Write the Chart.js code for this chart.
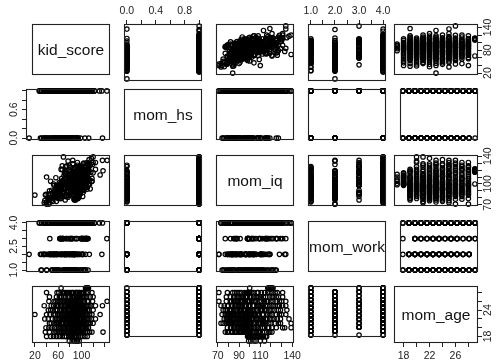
<!DOCTYPE html>
<html>
<head>
<meta charset="utf-8">
<script src="https://cdn.jsdelivr.net/npm/chart.js@4/dist/chart.umd.min.js"></script>
<style>
  html, body { margin: 0; padding: 0; background: #fff; }
  #matrix { position: relative; width: 496px; height: 360px; overflow: hidden; background: #fff; }
  #matrix canvas { position: absolute; left: 0; top: 0; }
</style>
</head>
<body>
<div id="matrix"></div>
<script>
// Variable names shown on the diagonal
const varNames = ['kid_score', 'mom_hs', 'mom_iq', 'mom_work', 'mom_age'];

// One value per child; each line holds the children of mothers of one age (17 .. 29)
const kidScore = [
  84, 96, 91, 79, 88, 93,
  106, 98, 92, 85, 110, 74, 67, 57, 47, 40, 88, 79, 101, 83, 62, 95, 71, 52, 90, 81,
  137, 118, 95, 104, 87, 76, 102, 63, 58, 92, 81, 71, 110, 53, 98, 85, 66, 38, 90, 114, 100, 79, 69, 93, 84, 61, 107, 74, 96, 56, 88, 45,
  69, 112, 101, 93, 107, 85, 78, 61, 54, 96, 88, 72, 44, 99, 82, 65, 104, 90, 39, 77, 91, 83, 75, 97, 68, 58, 103, 86, 49, 95, 80, 71, 109, 63,
  120, 115, 108, 102, 97, 94, 89, 86, 83, 79, 75, 70, 66, 60, 53, 45, 99, 111, 91, 73, 84, 57, 103, 93, 92, 87, 81, 77, 95, 68, 100, 62, 106, 74, 85, 58, 98, 112, 48, 90,
  124, 117, 113, 106, 101, 96, 92, 88, 84, 80, 76, 71, 65, 58, 50, 37, 109, 98, 86, 69, 91, 78, 62, 100, 94, 89, 82, 75, 104, 67, 97, 60, 111, 85, 72, 55, 99, 43, 80, 92,
  20, 132, 106, 91, 102, 99, 118, 110, 95, 87, 83, 79, 74, 68, 63, 55, 46, 40, 89, 97, 72, 85, 60, 114, 93, 81, 96, 90, 84, 78, 101, 70, 93, 65, 108, 86, 76, 59, 104, 52, 99, 82,
  102, 58, 120, 113, 107, 100, 95, 90, 86, 82, 77, 72, 66, 59, 51, 43, 97, 88, 79, 105, 69, 93, 99, 92, 85, 78, 103, 71, 94, 63, 110, 88, 75, 56, 101, 47,
  98, 83, 124, 116, 109, 103, 97, 93, 88, 84, 80, 75, 70, 64, 57, 48, 36, 111, 91, 77, 136, 61, 100, 94, 87, 81, 106, 73, 96, 66, 113, 89, 78, 59, 102, 52,
  144, 78, 110, 119, 105, 99, 94, 90, 85, 81, 76, 71, 65, 56, 44, 101, 87, 68, 96, 59, 98, 92, 86, 80, 104, 74, 95, 63, 112, 88, 70, 53,
  65, 85, 115, 84, 120, 106, 99, 92, 88, 79, 73, 66, 57, 45, 95, 102, 97, 91, 84, 77, 104, 70, 93, 62, 109, 86,
  102, 118, 111, 104, 97, 91, 86, 80, 74, 67, 58, 40, 94, 71, 96, 90, 83, 77, 100, 69, 92, 61, 108, 85,
  110, 108, 112, 109, 111, 65, 109, 111, 107, 110
];
const momHs = [
  0, 1, 0, 1, 1, 0,
  1, 0, 1, 0, 1, 1, 0, 1, 0, 1, 1, 1, 1, 0, 1, 1, 0, 1, 1, 1,
  0, 1, 1, 1, 1, 0, 1, 0, 1, 1, 1, 0, 1, 1, 1, 0, 1, 0, 1, 1, 1, 1, 1, 0, 1, 1, 1, 0, 1, 1, 1, 0,
  1, 1, 1, 1, 1, 0, 1, 0, 1, 1, 1, 0, 0, 1, 1, 1, 1, 0, 1, 1, 1, 1, 1, 0, 1, 0, 1, 1, 1, 1, 0, 1, 1, 1,
  1, 0, 1, 1, 1, 0, 1, 1, 0, 1, 1, 0, 1, 1, 0, 1, 1, 1, 1, 1, 1, 0, 1, 0, 1, 1, 1, 0, 1, 1, 1, 0, 1, 1, 1, 1, 0, 1, 1, 1,
  1, 1, 1, 1, 1, 1, 0, 1, 1, 0, 1, 1, 0, 1, 0, 1, 1, 1, 1, 1, 1, 0, 1, 1, 1, 1, 1, 0, 1, 1, 1, 0, 1, 1, 1, 1, 1, 0, 1, 1,
  0, 1, 1, 1, 1, 1, 1, 1, 1, 0, 1, 1, 0, 1, 1, 0, 1, 0, 1, 1, 1, 1, 0, 1, 1, 0, 1, 1, 0, 1, 1, 1, 1, 0, 1, 1, 1, 1, 1, 0, 1, 1,
  1, 1, 1, 1, 1, 1, 1, 0, 1, 1, 0, 1, 1, 0, 1, 1, 1, 1, 1, 1, 0, 1, 1, 1, 0, 1, 1, 1, 1, 1, 1, 1, 0, 1, 1, 1,
  1, 1, 1, 1, 1, 1, 0, 1, 1, 0, 1, 1, 0, 1, 1, 0, 1, 1, 1, 1, 1, 1, 1, 1, 0, 1, 1, 1, 1, 1, 1, 1, 0, 1, 1, 1,
  1, 1, 1, 1, 1, 1, 0, 1, 1, 0, 1, 1, 0, 1, 1, 1, 1, 1, 1, 0, 1, 1, 0, 1, 1, 1, 1, 1, 1, 1, 0, 1,
  1, 1, 1, 1, 1, 1, 1, 0, 1, 1, 0, 1, 1, 1, 1, 0, 1, 1, 0, 1, 1, 1, 1, 1, 1, 1,
  1, 1, 1, 1, 1, 0, 1, 1, 0, 1, 1, 1, 1, 1, 1, 1, 1, 0, 1, 1, 1, 1, 1, 1,
  1, 1, 1, 0, 1, 1, 1, 1, 1, 1
];
const momIq = [
  101, 114, 99, 104, 106, 110,
  116, 108, 103, 100, 112, 99, 101, 98, 104, 110, 106, 113, 104, 111, 102, 99, 115, 100, 107, 109,
  119, 104, 112, 91, 97, 103, 121, 79, 92, 83, 108, 88, 95, 98, 86, 116, 100, 84, 77, 106, 93, 110, 99, 87, 101, 91, 118, 83, 96, 109, 80, 90,
  139, 118, 96, 131, 104, 110, 83, 97, 90, 88, 121, 101, 79, 93, 114, 92, 99, 107, 85, 133, 98, 112, 89, 102, 105, 86, 94, 117, 91, 125, 100, 82, 108, 95,
  139, 127, 98, 112, 118, 84, 124, 92, 101, 106, 89, 95, 108, 81, 87, 73, 104, 115, 78, 101, 94, 75, 88, 83, 100, 113, 87, 96, 120, 104, 93, 90, 109, 82, 129, 97, 86, 99, 80, 110,
  121, 137, 129, 94, 104, 82, 100, 113, 88, 108, 97, 116, 79, 91, 85, 76, 92, 111, 123, 87, 106, 98, 84, 96, 99, 115, 106, 90, 110, 126, 96, 86, 103, 93, 119, 81, 89, 78, 102, 95,
  84, 113, 125, 89, 119, 96, 104, 128, 80, 101, 108, 93, 117, 90, 97, 83, 86, 74, 88, 109, 77, 134, 79, 100, 102, 92, 121, 102, 94, 107, 97, 112, 88, 99, 130, 85, 105, 91, 116, 82, 109, 84,
  82, 95, 116, 135, 98, 123, 88, 110, 105, 119, 81, 101, 94, 91, 75, 85, 112, 77, 127, 103, 99, 92, 107, 96, 114, 90, 129, 100, 121, 92, 103, 111, 83, 87, 94, 79,
  89, 99, 131, 117, 96, 122, 103, 83, 112, 90, 107, 126, 100, 86, 93, 76, 73, 109, 79, 119, 134, 92, 110, 104, 95, 124, 99, 115, 87, 97, 128, 91, 108, 84, 115, 80,
  134, 114, 120, 128, 106, 91, 102, 117, 85, 98, 111, 95, 82, 88, 71, 93, 78, 104, 125, 87, 105, 99, 116, 92, 130, 109, 86, 100, 122, 96, 89, 83,
  121, 115, 93, 89, 131, 100, 119, 91, 110, 96, 125, 104, 82, 78, 86, 107, 122, 106, 94, 113, 98, 101, 127, 88, 108, 85,
  114, 108, 131, 92, 124, 97, 117, 84, 102, 121, 88, 71, 79, 99, 104, 119, 111, 95, 126, 86, 98, 90, 107, 100,
  120, 118, 122, 117, 121, 100, 119, 118, 121, 120
];
const momWork = [
  2, 4, 1, 3, 4, 1,
  4, 1, 2, 4, 1, 2, 4, 1, 2, 4, 4, 2, 4, 2, 4, 1, 4, 2, 4, 1,
  4, 4, 1, 3, 2, 2, 4, 1, 4, 2, 4, 2, 1, 3, 4, 1, 4, 2, 4, 3, 4, 2, 4, 1, 4, 2, 3, 4, 4, 1, 2, 4,
  4, 4, 4, 4, 1, 2, 4, 1, 2, 3, 4, 4, 2, 4, 1, 4, 3, 4, 1, 2, 4, 2, 4, 1, 4, 2, 4, 3, 4, 1, 4, 2, 4, 1,
  4, 4, 3, 4, 2, 1, 4, 2, 4, 1, 4, 2, 4, 1, 2, 4, 4, 3, 4, 2, 4, 1, 4, 2, 4, 2, 4, 1, 4, 2, 4, 4, 1, 3, 4, 2, 4, 4, 1, 2,
  4, 4, 3, 4, 2, 4, 1, 4, 2, 4, 1, 4, 2, 4, 2, 4, 4, 2, 4, 3, 4, 1, 4, 2, 4, 2, 4, 1, 4, 4, 2, 4, 3, 4, 1, 2, 4, 4, 3, 1,
  2, 4, 3, 1, 4, 4, 4, 2, 4, 1, 4, 2, 4, 1, 4, 2, 4, 1, 3, 4, 2, 4, 4, 1, 3, 2, 4, 2, 4, 1, 4, 3, 4, 2, 4, 1, 4, 2, 3, 4, 4, 1,
  1, 4, 4, 4, 3, 4, 2, 4, 1, 4, 2, 4, 1, 2, 4, 2, 4, 3, 4, 2, 4, 1, 4, 2, 4, 1, 4, 3, 4, 2, 4, 1, 4, 2, 4, 4,
  4, 3, 4, 2, 4, 1, 4, 2, 4, 1, 4, 3, 4, 2, 4, 1, 4, 3, 4, 2, 2, 4, 4, 2, 4, 1, 4, 3, 4, 2, 4, 1, 4, 2, 3, 4,
  3, 4, 4, 4, 2, 4, 1, 4, 3, 4, 2, 4, 1, 4, 2, 4, 1, 4, 3, 4, 4, 2, 4, 1, 4, 3, 4, 2, 4, 1, 4, 2,
  4, 4, 4, 4, 4, 2, 4, 1, 3, 2, 4, 1, 4, 4, 4, 1, 4, 2, 4, 1, 3, 4, 4, 2, 4, 1,
  4, 4, 3, 2, 4, 1, 4, 2, 4, 1, 4, 2, 4, 3, 4, 2, 4, 1, 4, 3, 4, 2, 4, 1,
  4, 4, 3, 1, 4, 1, 4, 4, 1, 3
];
const momAge = [
  17, 17, 17, 17, 17, 17,
  18, 18, 18, 18, 18, 18, 18, 18, 18, 18, 18, 18, 18, 18, 18, 18, 18, 18, 18, 18,
  19, 19, 19, 19, 19, 19, 19, 19, 19, 19, 19, 19, 19, 19, 19, 19, 19, 19, 19, 19, 19, 19, 19, 19, 19, 19, 19, 19, 19, 19, 19, 19,
  20, 20, 20, 20, 20, 20, 20, 20, 20, 20, 20, 20, 20, 20, 20, 20, 20, 20, 20, 20, 20, 20, 20, 20, 20, 20, 20, 20, 20, 20, 20, 20, 20, 20,
  21, 21, 21, 21, 21, 21, 21, 21, 21, 21, 21, 21, 21, 21, 21, 21, 21, 21, 21, 21, 21, 21, 21, 21, 21, 21, 21, 21, 21, 21, 21, 21, 21, 21, 21, 21, 21, 21, 21, 21,
  22, 22, 22, 22, 22, 22, 22, 22, 22, 22, 22, 22, 22, 22, 22, 22, 22, 22, 22, 22, 22, 22, 22, 22, 22, 22, 22, 22, 22, 22, 22, 22, 22, 22, 22, 22, 22, 22, 22, 22,
  23, 23, 23, 23, 23, 23, 23, 23, 23, 23, 23, 23, 23, 23, 23, 23, 23, 23, 23, 23, 23, 23, 23, 23, 23, 23, 23, 23, 23, 23, 23, 23, 23, 23, 23, 23, 23, 23, 23, 23, 23, 23,
  24, 24, 24, 24, 24, 24, 24, 24, 24, 24, 24, 24, 24, 24, 24, 24, 24, 24, 24, 24, 24, 24, 24, 24, 24, 24, 24, 24, 24, 24, 24, 24, 24, 24, 24, 24,
  25, 25, 25, 25, 25, 25, 25, 25, 25, 25, 25, 25, 25, 25, 25, 25, 25, 25, 25, 25, 25, 25, 25, 25, 25, 25, 25, 25, 25, 25, 25, 25, 25, 25, 25, 25,
  26, 26, 26, 26, 26, 26, 26, 26, 26, 26, 26, 26, 26, 26, 26, 26, 26, 26, 26, 26, 26, 26, 26, 26, 26, 26, 26, 26, 26, 26, 26, 26,
  27, 27, 27, 27, 27, 27, 27, 27, 27, 27, 27, 27, 27, 27, 27, 27, 27, 27, 27, 27, 27, 27, 27, 27, 27, 27,
  28, 28, 28, 28, 28, 28, 28, 28, 28, 28, 28, 28, 28, 28, 28, 28, 28, 28, 28, 28, 28, 28, 28, 28,
  29, 29, 29, 29, 29, 29, 29, 29, 29, 29
];

// Tick positions and the labels printed at them
const kidTicks  = [20, 40, 60, 80, 100, 120, 140];
const hsTicks   = [0, 0.2, 0.4, 0.6, 0.8, 1];
const iqTicks   = [70, 80, 90, 100, 110, 120, 130, 140];
const workTicks = [1, 1.5, 2, 2.5, 3, 3.5, 4];
const ageTicks  = [18, 20, 22, 24, 26, 28];
const xTickLabels = [['20', '60', '100'], ['0.0', '0.4', '0.8'], ['70', '90', '110', '140'], ['1.0', '2.0', '3.0', '4.0'], ['18', '22', '26']];
const yTickLabels = [['20', '80', '140'], ['0.0', '0.6'], ['70', '100', '140'], ['1.0', '2.5', '4.0'], ['18', '24']];

const series = [kidScore, momHs, momIq, momWork, momAge];
const tickValues = [kidTicks, hsTicks, iqTicks, workTicks, ageTicks];

// Axis limits: data range widened by 4% at each end
const limits = series.map(s => {
  const lo = Math.min(...s), hi = Math.max(...s), pad = (hi - lo) * 0.04;
  return [lo - pad, hi + pad];
});

// Panel grid geometry
const W = 496, H = 360;
const colLeft = [26, 118, 210, 302, 394];
const rowTop = [24, 89, 155, 221, 286];
const boxW = 84, boxH = 57;
const AX = 6;               // room reserved for an axis strip
const INK = '#222';
const TICK_FONT = '10.5px "Liberation Sans", Arial, Helvetica, sans-serif';
const DIAG_FONT = '15.5px "Liberation Sans", Arial, Helvetica, sans-serif';

const panelPlugin = {
  id: 'panel',
  afterDraw(chart, args, opts) {
    const { ctx, chartArea: a } = chart;
    ctx.save();
    ctx.strokeStyle = INK;
    ctx.lineWidth = 1.1;
    ctx.strokeRect(a.left + 0.5, a.top + 0.5, a.right - a.left - 1, a.bottom - a.top - 1);

    ctx.fillStyle = '#222';
    ctx.font = TICK_FONT;
    ctx.textAlign = 'center';
    ctx.textBaseline = 'middle';
    const xs = chart.scales.x, ys = chart.scales.y;
    if (opts.xSide) {
      const yy = opts.xSide === 'top' ? a.top - 13 : a.bottom + 13;
      xTickLabels[opts.col].forEach(t => ctx.fillText(t, xs.getPixelForValue(parseFloat(t)), yy));
    }
    if (opts.ySide) {
      const xx = opts.ySide === 'left' ? a.left - 12 : a.right + 10;
      yTickLabels[opts.row].forEach(t => {
        ctx.save();
        ctx.translate(xx, ys.getPixelForValue(parseFloat(t)));
        ctx.rotate(-Math.PI / 2);
        ctx.fillText(t, 0, 0);
        ctx.restore();
      });
    }
    if (opts.title) {
      ctx.fillStyle = '#111';
      ctx.font = DIAG_FONT;
      ctx.fillText(opts.title, (a.left + a.right) / 2, (a.top + a.bottom) / 2 + 1);
    }
    ctx.restore();
  }
};

function axisOptions(k, horizontal, side) {
  return {
    type: 'linear',
    display: !!side,
    position: side || (horizontal ? 'bottom' : 'left'),
    min: limits[k][0],
    max: limits[k][1],
    afterBuildTicks: s => { s.ticks = tickValues[k].map(v => ({ value: v })); },
    afterFit: s => { if (horizontal) s.height = AX; else s.width = AX; },
    grid: { drawOnChartArea: false, drawTicks: true, tickLength: 4, color: INK, lineWidth: 1 },
    border: { display: false },
    ticks: { display: false }
  };
}

const host = document.getElementById('matrix');
for (let r = 0; r < 5; r++) {
  for (let c = 0; c < 5; c++) {
    const xSide = (r === 0 && c % 2 === 1) ? 'top' : (r === 4 && c % 2 === 0) ? 'bottom' : null;
    const ySide = (c === 0 && r % 2 === 1) ? 'left' : (c === 4 && r % 2 === 0) ? 'right' : null;
    const left = colLeft[c], top = rowTop[r];
    const padding = {
      left: left - (ySide === 'left' ? AX : 0),
      right: W - (left + boxW) - (ySide === 'right' ? AX : 0),
      top: top - (xSide === 'top' ? AX : 0),
      bottom: H - (top + boxH) - (xSide === 'bottom' ? AX : 0)
    };
    const canvas = document.createElement('canvas');
    canvas.width = W; canvas.height = H;
    canvas.style.width = W + 'px'; canvas.style.height = H + 'px';
    host.appendChild(canvas);

    const datasets = r === c ? [] : [{
      data: series[c].map((v, i) => ({ x: v, y: series[r][i] })),
      pointStyle: 'circle',
      pointRadius: 2.2,
      pointHoverRadius: 2.2,
      pointBorderWidth: 1.2,
      pointBorderColor: '#000',
      pointBackgroundColor: 'rgba(0,0,0,0)',
      clip: 2
    }];

    new Chart(canvas, {
      type: 'scatter',
      data: { datasets },
      options: {
        responsive: false,
        animation: false,
        events: [],
        layout: { padding },
        plugins: {
          legend: { display: false },
          tooltip: { enabled: false },
          panel: { row: r, col: c, xSide, ySide, title: r === c ? varNames[r] : null }
        },
        scales: {
          x: axisOptions(c, true, xSide),
          y: axisOptions(r, false, ySide)
        }
      },
      plugins: [panelPlugin]
    });
  }
}
</script>
</body>
</html>
